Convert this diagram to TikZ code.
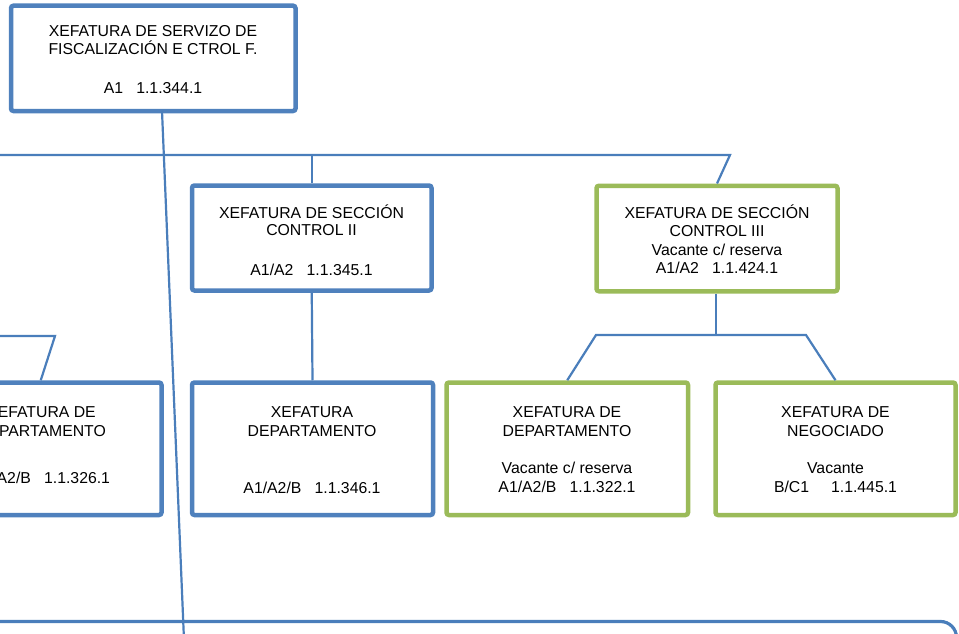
\documentclass[tikz,border=0pt]{standalone}
\usepackage{fontspec}
\setmainfont{Liberation Sans}
\definecolor{oblue}{HTML}{4F81BD}
\definecolor{cblue}{HTML}{4A7EBB}
\definecolor{ogreen}{HTML}{9BBB59}
\begin{document}
\begin{tikzpicture}[x=1pt,y=-1pt,
  box/.style={draw, line width=4.5pt, rounded corners=2.5pt, fill=white, inner sep=0pt},
  bbox/.style={box, draw=oblue},
  gbox/.style={box, draw=ogreen},
  conn/.style={draw=cblue, line width=2.2pt},
  txt/.style={anchor=base, inner sep=0pt, font=\fontsize{15.8}{18}\selectfont, text=black}]
\useasboundingbox (0,0) rectangle (959,634);
% boxes
\node[bbox, minimum width=284.5pt, minimum height=105.3pt] (top) at (153.25,58.35) {};
\node[bbox, minimum width=239.5pt, minimum height=105pt] (c2) at (311.75,238) {};
\node[gbox, minimum width=241pt, minimum height=105.5pt] (c3) at (717,238.5) {};
\node[bbox, minimum width=241.5pt, minimum height=132.5pt] (b1) at (40.75,448.75) {};
\node[bbox, minimum width=241pt, minimum height=132.5pt] (b2) at (312.5,448.75) {};
\node[gbox, minimum width=241.5pt, minimum height=132.5pt] (b3) at (567.25,448.75) {};
\node[gbox, minimum width=240pt, minimum height=132.5pt] (b4) at (835.5,448.75) {};
% connector coordinates
\coordinate (tout) at (162,111);
\coordinate (tend) at (184,640);
\coordinate (hl) at (-5,155);
\coordinate (h2) at (311.75,155);
\coordinate (hr) at (730,155);
\coordinate (c3a) at (716,335);
\coordinate (c3l) at (596,335);
\coordinate (c3r) at (806,335);
\coordinate (ll) at (-5,336);
\coordinate (lr) at (55,336);
\coordinate (bigL) at (-5,621.5);
\coordinate (bigC) at (956.5,621.5);
\coordinate (bigD) at (956.5,660);
% connectors
\draw[conn] (tout) -- (tend);
\draw[conn] (hl) -- (hr) -- (c3.north);
\draw[conn] (h2) -- (c2.north);
\draw[conn] (c2.south) -- (b2.north);
\draw[conn] (c3.south -| c3a) -- (c3a);
\draw[conn] (b3.north) -- (c3l) -- (c3r) -- (b4.north);
\draw[conn] (ll) -- (lr) -- (b1.north);
\draw[conn, line width=3.2pt, rounded corners=16pt] (bigL) -- (bigC) -- (bigD);
% texts
\node[txt] (t1) at (153,36.7) {XEFATURA DE SERVIZO DE};
\node[txt] (t2) at (153,55) {FISCALIZACIÓN E CTROL F.};
\node[txt] (t3) at (153,93.3) {A1\ \ \ 1.1.344.1};
\node[txt] (c2t1) at (311.5,218) {XEFATURA DE SECCIÓN};
\node[txt] (c2t2) at (311.5,235.5) {CONTROL II};
\node[txt] (c2t3) at (311.5,275) {A1/A2\ \ \ 1.1.345.1};
\node[txt] (c3t1) at (717,218) {XEFATURA DE SECCIÓN};
\node[txt] (c3t2) at (717,236) {CONTROL III};
\node[txt] (c3t3) at (717,255) {Vacante c/ reserva};
\node[txt] (c3t4) at (717,273) {A1/A2\ \ \ 1.1.424.1};
\node[txt] (b1t1) at (41.5,417) {XEFATURA DE};
\node[txt] (b1t2) at (41.5,436) {DEPARTAMENTO};
\node[txt] (b1t3) at (41.5,483) {A1/A2/B\ \ \ 1.1.326.1};
\node[txt] (b2t1) at (312,417) {XEFATURA};
\node[txt] (b2t2) at (312,436) {DEPARTAMENTO};
\node[txt] (b2t3) at (312,493) {A1/A2/B\ \ \ 1.1.346.1};
\node[txt] (b3t1) at (567,417) {XEFATURA DE};
\node[txt] (b3t2) at (567,436) {DEPARTAMENTO};
\node[txt] (b3t3) at (567,473) {Vacante c/ reserva};
\node[txt] (b3t4) at (567,492) {A1/A2/B\ \ \ 1.1.322.1};
\node[txt] (b4t1) at (835.5,417) {XEFATURA DE};
\node[txt] (b4t2) at (835.5,436) {NEGOCIADO};
\node[txt] (b4t3) at (835.5,473) {Vacante};
\node[txt] (b4t4) at (835.5,492) {B/C1\ \ \ \ \ 1.1.445.1};
\end{tikzpicture}
\end{document}
